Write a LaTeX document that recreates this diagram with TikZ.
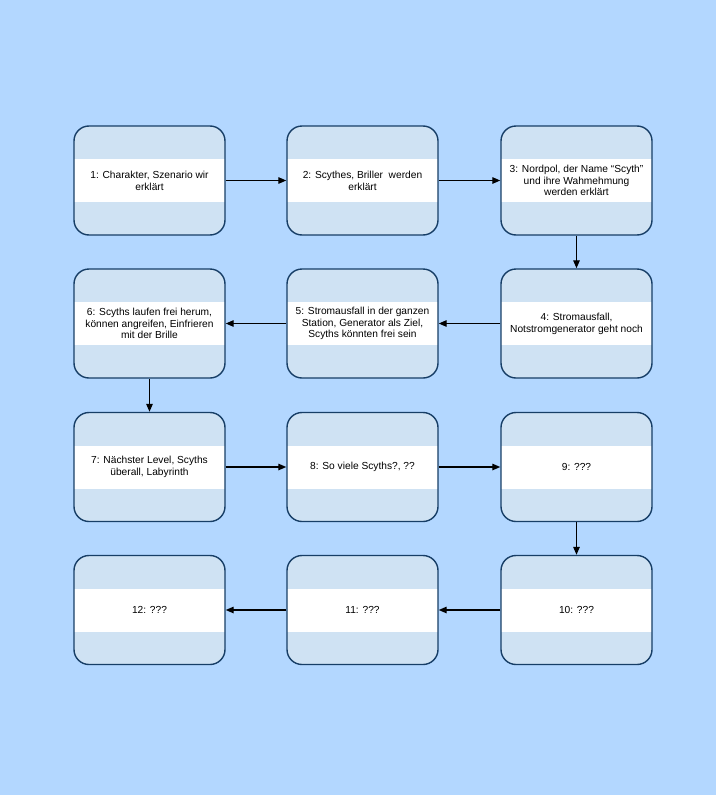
\documentclass[tikz,border=0pt]{standalone}
\usepackage{fontspec}
\setmainfont{Liberation Sans}
\usetikzlibrary{arrows.meta}

\definecolor{pagebg}{HTML}{B3D7FF}
\definecolor{stagefill}{HTML}{CFE2F3}
\definecolor{stageline}{HTML}{173E66}

\tikzset{
  stage/.style={draw=stageline, line width=1.4pt, fill=stagefill,
    rounded corners=15pt, minimum width=151pt, minimum height=109pt,
    align=center, font=\fontsize{10.2}{11.8}\selectfont,
    path picture={\fill[white, sharp corners]
      ([yshift=21.5pt]path picture bounding box.west) rectangle
      ([yshift=-21.5pt]path picture bounding box.east);}},
  flow/.style={-{Triangle[length=8pt,width=6.5pt]}, line width=1.3pt, black}
}

\begin{document}
\begin{tikzpicture}[x=1pt,y=-1pt]
  %% Column and row centres of the story boards.
  \def\colA{149.5}
  \def\colB{362.5}
  \def\colC{576.5}
  \def\rowA{180.5}
  \def\rowB{323.5}
  \def\rowC{467}
  \def\rowD{610}

  %% Page background.
  \fill[pagebg] (0,0) rectangle (716,795);

  %% First row, left to right.
  \node[stage] (s1) at (\colA,\rowA) {1: Charakter, Szenario wir\\erklärt};
  \node[stage] (s2) at (\colB,\rowA) {2: Scythes, Briller\ \ werden\\erklärt};
  \node[stage] (s3) at (\colC,\rowA) {3: Nordpol, der Name “Scyth”\\und ihre Wahmehmung\\werden erklärt};

  %% Second row, right to left.
  \node[stage] (s4) at (\colC,\rowB) {4: Stromausfall,\\Notstromgenerator geht noch};
  \node[stage] (s5) at (\colB,\rowB) {5: Stromausfall in der ganzen\\Station, Generator als Ziel,\\Scyths könnten frei sein};
  \node[stage] (s6) at (\colA,\rowB) {6: Scyths laufen frei herum,\\können angreifen, Einfrieren\\mit der Brille};

  %% Third row, left to right.
  \node[stage] (s7) at (\colA,\rowC) {7: Nächster Level, Scyths\\überall, Labyrinth};
  \node[stage] (s8) at (\colB,\rowC) {8: So viele Scyths?, ??};
  \node[stage] (s9) at (\colC,\rowC) {9: ???};

  %% Fourth row, right to left.
  \node[stage] (s10) at (\colC,\rowD) {10: ???};
  \node[stage] (s11) at (\colB,\rowD) {11: ???};
  \node[stage] (s12) at (\colA,\rowD) {12: ???};

  %% Connect the boards in story order.
  \draw[flow] (s1) -- (s2);
  \draw[flow] (s2) -- (s3);
  \draw[flow] (s3) -- (s4);
  \draw[flow] (s4) -- (s5);
  \draw[flow] (s5) -- (s6);
  \draw[flow] (s6) -- (s7);
  \draw[flow] (s7) -- (s8);
  \draw[flow] (s8) -- (s9);
  \draw[flow] (s9) -- (s10);
  \draw[flow] (s10) -- (s11);
  \draw[flow] (s11) -- (s12);
\end{tikzpicture}
\end{document}
